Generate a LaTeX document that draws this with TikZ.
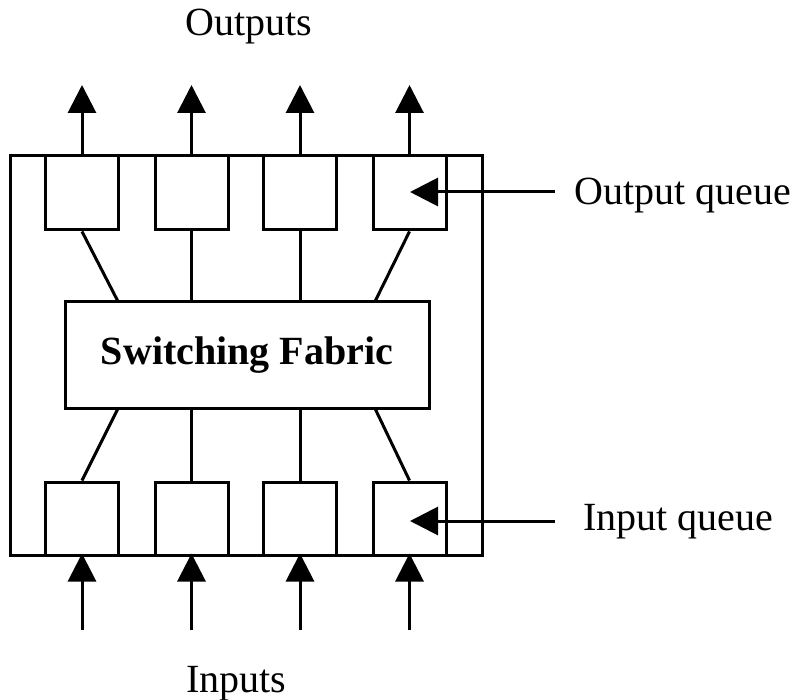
\documentclass[tikz,border=0pt]{standalone}
\usepackage{fontspec}
\setmainfont{Liberation Serif}
\usetikzlibrary{arrows.meta}
\begin{document}
\begin{tikzpicture}[x=1pt,y=-1pt,
  every path/.style={line width=3pt},
  queue/.style={draw,line width=3pt,rectangle,inner sep=0pt,minimum width=73pt,minimum height=74pt},
  fabricbox/.style={draw,line width=3pt,rectangle,inner sep=0pt,minimum width=364pt,minimum height=106pt,font=\fontsize{40}{48}\selectfont\bfseries},
  lbl/.style={inner sep=0pt,font=\fontsize{40}{48}\selectfont},
  arr/.style={-{Triangle[length=28pt,width=28pt]},line width=3pt}]
\useasboundingbox (0,0) rectangle (795,700);
% outer router box
\draw[line width=3pt] (10,156) rectangle (482,555);
% output queues
\node[queue] (qo1) at (82,193) {};
\node[queue] (qo2) at (191.5,193) {};
\node[queue] (qo3) at (300,193) {};
\node[queue] (qo4) at (409.5,193) {};
% input queues
\node[queue,minimum height=73pt] (qi1) at (82,518.5) {};
\node[queue,minimum height=73pt] (qi2) at (191.5,518.5) {};
\node[queue,minimum height=73pt] (qi3) at (300,518.5) {};
\node[queue,minimum height=73pt] (qi4) at (409.5,518.5) {};
% switching fabric
\node[fabricbox] (fab) at (247,355) {Switching Fabric};
% labels
\node[lbl,anchor=base] (outs) at (249,36) {Outputs};
\node[lbl,anchor=base] (ins) at (236.5,692) {Inputs};
\node[lbl,anchor=base west] (oq) at (573,205) {Output queue};
\node[lbl,anchor=base west] (iq) at (582,530) {Input queue};
% free ends
\coordinate (to1) at (82,85);
\coordinate (to2) at (191.5,85);
\coordinate (to3) at (300,85);
\coordinate (to4) at (409.5,85);
\coordinate (ti1) at (82,630);
\coordinate (ti2) at (191.5,630);
\coordinate (ti3) at (300,630);
\coordinate (ti4) at (409.5,630);
\coordinate (oqs) at (555,192);
\coordinate (oqt) at (410,192);
\coordinate (iqs) at (555,521);
\coordinate (iqt) at (410,521);
% output arrows
\foreach \i in {1,2,3,4} {
  \draw[arr] (qo\i.north) -- (to\i);
  \draw[arr] (ti\i) -- ([yshift=3pt]qi\i.south);
}
% connectors queue <-> fabric
\draw (qo1.south) -- ([xshift=54pt]fab.north west);
\draw (qo2.south) -- (qo2.south |- fab.north);
\draw (qo3.south) -- (qo3.south |- fab.north);
\draw (qo4.south) -- ([xshift=-55pt]fab.north east);
\draw ([xshift=54pt]fab.south west) -- (qi1.north);
\draw (qi2.north) -- (qi2.north |- fab.south);
\draw (qi3.north) -- (qi3.north |- fab.south);
\draw ([xshift=-55pt]fab.south east) -- (qi4.north);
% label arrows
\draw[arr] (oqs) -- (oqt);
\draw[arr] (iqs) -- (iqt);
\end{tikzpicture}
\end{document}
